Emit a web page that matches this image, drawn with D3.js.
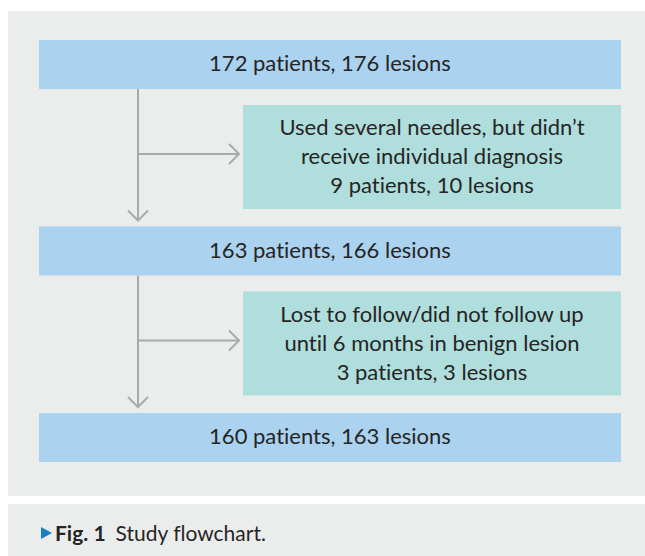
<!DOCTYPE html>
<html>
<head>
<meta charset="utf-8">
<script src="https://cdn.jsdelivr.net/npm/d3@7"></script>
<style>
  html, body { margin: 0; padding: 0; background: #fff; }
  svg { display: block; }
  text { font-variant-ligatures: none; font-feature-settings: "liga" 0; }
</style>
</head>
<body>
<div id="chart"></div>
<script>
// flowchart content
const mainSteps = [
  "172 patients, 176 lesions",
  "163 patients, 166 lesions",
  "160 patients, 163 lesions"
];
const exclusions = [
  ["Used several needles, but didn\u2019t", "receive individual diagnosis", "9 patients, 10 lesions"],
  ["Lost to follow/did not follow up", "until 6 months in benign lesion", "3 patients, 3 lesions"]
];
const captionLabel = "Fig. 1";
const captionText = "Study flowchart.";

const W = 645, H = 556;
const font = "Lato, 'Open Sans', sans-serif";

const svg = d3.select("#chart").append("svg")
  .attr("width", W).attr("height", H);

// backgrounds
svg.append("rect").attr("x", 8).attr("y", 11).attr("width", W - 8).attr("height", 485)
  .attr("fill", "#ebedec");
svg.append("rect").attr("x", 8).attr("y", 504).attr("width", W - 8).attr("height", 52)
  .attr("fill", "#ebedec");

// vertical layout: each step row is main box, followed by an exclusion box
const mainH = 49, sideH = 104;
const mainY = d3.scaleLinear().domain([0, 1]).range([40, 226.5]);
const x = d3.scaleLinear().domain([0, 1]).range([39, 621]);
const sideX0 = 243, trunkX = 138;

const lineColor = "#a9abab";
const g = svg.append("g");

// connectors
exclusions.forEach((d, i) => {
  const top = mainY(i) + mainH;
  const bottom = mainY(i + 1) - 6;
  const sideTop = top + 16;
  const midY = sideTop + sideH / 2 - 3;
  g.append("line").attr("x1", trunkX).attr("x2", trunkX)
    .attr("y1", top).attr("y2", bottom)
    .attr("stroke", lineColor).attr("stroke-width", 2);
  g.append("path")
    .attr("d", `M${trunkX - 10},${bottom - 10}L${trunkX},${bottom}L${trunkX + 10},${bottom - 10}`)
    .attr("fill", "none").attr("stroke", lineColor).attr("stroke-width", 2);
  g.append("line").attr("x1", trunkX).attr("x2", sideX0 - 4)
    .attr("y1", midY).attr("y2", midY)
    .attr("stroke", lineColor).attr("stroke-width", 2);
  g.append("path")
    .attr("d", `M${sideX0 - 14},${midY - 10}L${sideX0 - 4},${midY}L${sideX0 - 14},${midY + 10}`)
    .attr("fill", "none").attr("stroke", lineColor).attr("stroke-width", 2);
});

// main boxes
const mains = g.selectAll("g.main").data(mainSteps).join("g").attr("class", "main");
mains.append("rect")
  .attr("x", x(0)).attr("width", x(1) - x(0))
  .attr("y", (d, i) => mainY(i)).attr("height", mainH)
  .attr("fill", "#abd2ef");
mains.append("text")
  .attr("x", (x(0) + x(1)) / 2)
  .attr("y", (d, i) => mainY(i) + 31)
  .attr("text-anchor", "middle")
  .attr("font-family", font).attr("font-size", 22).attr("fill", "#252525")
  .text(d => d);

// exclusion boxes
const sides = g.selectAll("g.side").data(exclusions).join("g").attr("class", "side");
sides.append("rect")
  .attr("x", sideX0).attr("width", x(1) - sideX0)
  .attr("y", (d, i) => mainY(i) + mainH + 16).attr("height", sideH)
  .attr("fill", "#b0dedc");
sides.each(function (lines, i) {
  const top = mainY(i) + mainH + 16;
  d3.select(this).selectAll("text").data(lines).join("text")
    .attr("x", (sideX0 + x(1)) / 2)
    .attr("y", (d, j) => top + 30 + j * 29)
    .attr("text-anchor", "middle")
    .attr("font-family", font).attr("font-size", 22).attr("fill", "#252525")
    .text(d => d);
});

// caption
svg.append("path").attr("d", "M41,527L52,533L41,539Z").attr("fill", "#1b7fc4");
const cap = svg.append("text").attr("x", 55).attr("y", 541)
  .attr("font-family", font).attr("font-size", 21).attr("fill", "#252525");
cap.append("tspan").attr("font-weight", "bold").text(captionLabel);
cap.append("tspan").attr("dx", 10).text(captionText);
</script>
</body>
</html>
